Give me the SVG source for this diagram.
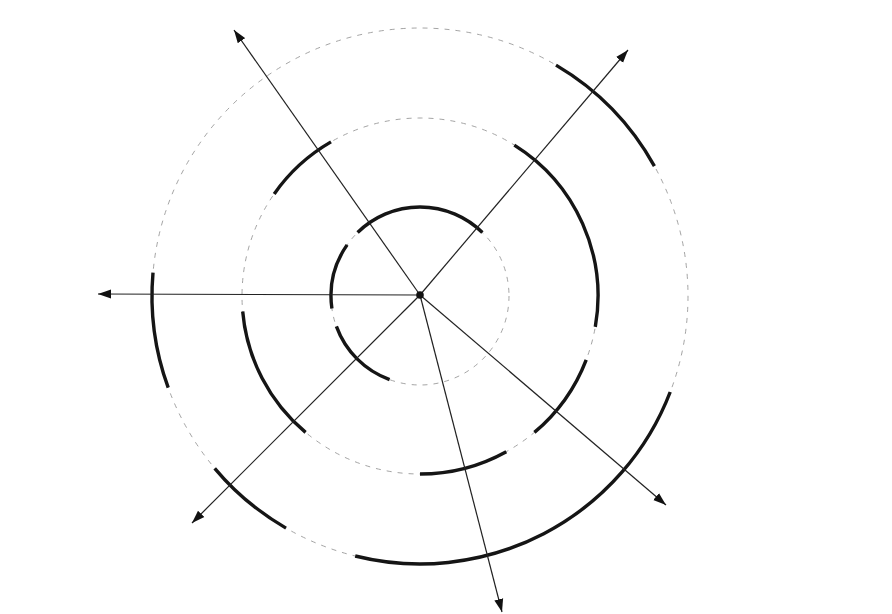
<svg xmlns="http://www.w3.org/2000/svg" width="892" height="614" viewBox="0 0 892 614">
<style>
.guide{fill:none;stroke:#9a9a9a;stroke-width:0.9;stroke-dasharray:5 6}
.arc{fill:none;stroke:#151515;stroke-width:3.4;stroke-linecap:butt}
.axis{stroke:#222;stroke-width:1.2;fill:none}
</style>
<defs>
<marker id="arr" markerUnits="userSpaceOnUse" markerWidth="14" markerHeight="10" refX="13" refY="5" orient="auto">
<path d="M0,0.5 L13,5 L0,9.5 Z" fill="#111"/>
</marker>
</defs>
<rect width="892" height="614" fill="#fff"/>
<g id="guides">
<circle class="guide" cx="420" cy="296" r="89"/>
<circle class="guide" cx="420" cy="296" r="178"/>
<circle class="guide" cx="420" cy="296" r="268"/>
</g>
<g id="inner-ring">
<path class="arc" d="M357.6,232.5 A89,89 0 0 1 482.4,232.5"/>
<path class="arc" d="M331.9,308.4 A89,89 0 0 1 347.1,244.9"/>
<path class="arc" d="M389.6,379.6 A89,89 0 0 1 336.4,326.4"/>
</g>
<g id="middle-ring">
<path class="arc" d="M274.2,193.9 A178,178 0 0 1 331,141.9"/>
<path class="arc" d="M514.3,145.1 A178,178 0 0 1 595.3,326.9"/>
<path class="arc" d="M586.2,359.8 A178,178 0 0 1 534.4,432.4"/>
<path class="arc" d="M506.3,451.7 A178,178 0 0 1 420,474"/>
<path class="arc" d="M305.6,432.4 A178,178 0 0 1 242.7,311.5"/>
</g>
<g id="outer-ring">
<path class="arc" d="M556.0,65.1 A268,268 0 0 1 654.4,166.1"/>
<path class="arc" d="M670.2,392.0 A268,268 0 0 1 355.2,556.0"/>
<path class="arc" d="M286.0,528.1 A268,268 0 0 1 214.7,468.3"/>
<path class="arc" d="M168.2,387.7 A268,268 0 0 1 153.0,272.6"/>
</g>
<g id="connectors">
<line class="axis" x1="420" y1="295" x2="98" y2="294" marker-end="url(#arr)"/>
<line class="axis" x1="420" y1="295" x2="234" y2="30" marker-end="url(#arr)"/>
<line class="axis" x1="420" y1="295" x2="628" y2="50" marker-end="url(#arr)"/>
<line class="axis" x1="420" y1="295" x2="192" y2="523" marker-end="url(#arr)"/>
<line class="axis" x1="420" y1="295" x2="666" y2="505" marker-end="url(#arr)"/>
<line class="axis" x1="420" y1="295" x2="502" y2="612" marker-end="url(#arr)"/>
</g>
<g id="center">
<circle cx="420" cy="295" r="3.8" fill="#111"/>
</g>
</svg>
